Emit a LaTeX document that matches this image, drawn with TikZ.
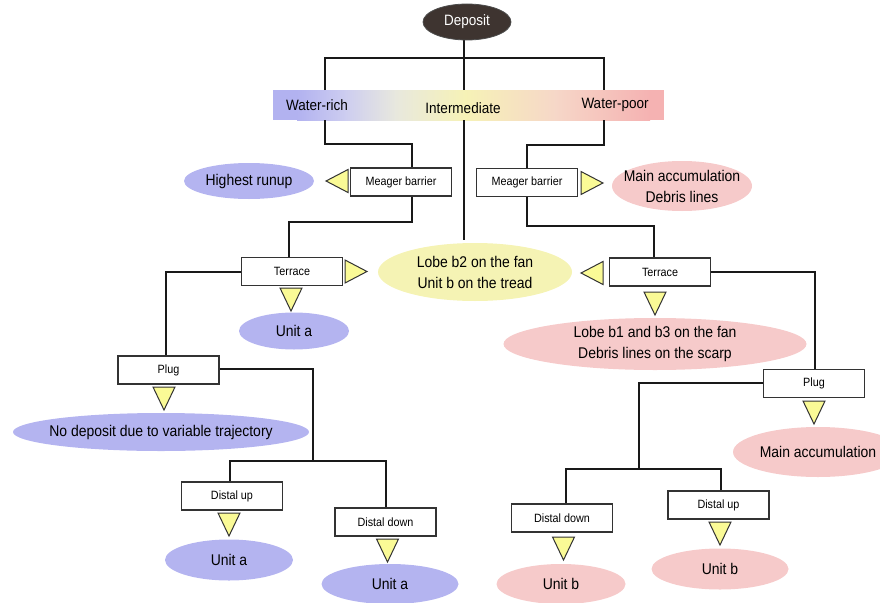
\documentclass[tikz,border=0pt]{standalone}
\usepackage{fontspec}
\setmainfont{Liberation Sans}[FakeStretch=0.9]
\usetikzlibrary{shapes.geometric}
\definecolor{cblue}{RGB}{180,180,240}
\definecolor{cpink}{RGB}{246,202,202}
\definecolor{cyel}{RGB}{245,243,180}
\definecolor{barblue}{RGB}{178,178,240}
\definecolor{barb2}{RGB}{205,205,240}
\definecolor{barw}{RGB}{232,232,222}
\definecolor{baryel}{RGB}{246,242,182}
\definecolor{barp2}{RGB}{246,215,200}
\definecolor{barpink}{RGB}{245,178,178}
\definecolor{ctri}{RGB}{250,250,150}
\definecolor{cdep}{RGB}{62,52,48}
\tikzset{
  stepbox/.style={draw=black!80, line width=1.1pt, fill=white, minimum width=101pt, minimum height=28pt, inner sep=0pt, font=\fontsize{12}{14}\selectfont},
  res/.style={inner sep=0pt, align=center, font=\fontsize{15.5}{21}\selectfont},
  conn/.style={line width=1.2pt, black!90},
  tri/.style={fill=ctri, draw=black!80, line width=1pt, line join=miter},
}
\newcommand\tdown[2]{\draw[tri] (#1-11,#2) -- (#1+11,#2) -- (#1,#2+23) -- cycle;}
\newcommand\tleft[2]{\draw[tri] (#1,#2) -- (#1+22,#2-11.5) -- (#1+22,#2+11.5) -- cycle;}
\newcommand\tright[2]{\draw[tri] (#1,#2) -- (#1-22,#2-11.5) -- (#1-22,#2+11.5) -- cycle;}
% result: name, x, y, width, height, colour, text
\newcommand\resnode[7]{\fill[#6] (#2,#3) ellipse [x radius=#4/2, y radius=#5/2]; \node[res] (#1) at (#2,#3) {#7};}
\begin{document}
\begin{tikzpicture}[x=1pt,y=-1pt]
\clip (0,0) rectangle (880,602);
\useasboundingbox (0,0) rectangle (880,602);
% gradient bar
\fill[barblue] (273,90) rectangle (298,120);
\shade[left color=barblue, right color=barb2] (297,90) rectangle (346,120);
\shade[left color=barb2, right color=barw] (345,90) rectangle (396,120);
\shade[left color=barw, right color=baryel] (395,90) rectangle (466,120);
\shade[left color=baryel, right color=barp2] (465,90) rectangle (556,120);
\shade[left color=barp2, right color=barpink] (555,90) rectangle (650,120);
\fill[barpink] (649,90) rectangle (664,120);
\node[font=\fontsize{15}{18}\selectfont] (wr) at (317,105) {Water-rich};
\node[font=\fontsize{15}{18}\selectfont] (im) at (463,108) {Intermediate};
\node[font=\fontsize{15}{18}\selectfont] (wp) at (615,105) {Water-poor};

% connectors
\draw[conn] (464,40) -- (464,90);
\draw[conn] (325,90) |- (604,58) -- (604,90);
\draw[conn] (325,120) |- (412,144) -- (412,168);
\draw[conn] (412,196) |- (289,222) -- (289,257);
\draw[conn] (464,120) -- (464,240);
\draw[conn] (242,272) -| (166,356);
\draw[conn] (219,369) -| (313,461);
\draw[conn] (230,482) |- (386,461) -- (386,508);
\draw[conn] (604,120) |- (527,145) -- (527,168);
\draw[conn] (527,197) |- (654,226) -- (654,258);
\draw[conn] (710,272) -| (815,369);
\draw[conn] (764,383) -| (639,469);
\draw[conn] (566,504) |- (721,469) -- (721,491);

% top node
\node[ellipse, fill=cdep, draw=black!70, line width=0.8pt, minimum width=88pt, minimum height=36pt, inner sep=0pt, text=white, font=\fontsize{15}{18}\selectfont] (dep) at (467,22) {Deposit};

% decision boxes
\node[stepbox] (mbL) at (401,182) {Meager barrier};
\node[stepbox] (mbR) at (527,182.5) {Meager barrier};
\node[stepbox] (terL) at (292,271.5) {Terrace};
\node[stepbox] (terR) at (660,272) {Terrace};
\node[stepbox] (plugL) at (168.5,370) {Plug};
\node[stepbox] (plugR) at (814,383.5) {Plug};
\node[stepbox] (duL) at (232,496) {Distal up};
\node[stepbox] (ddL) at (385.5,522) {Distal down};
\node[stepbox] (ddR) at (562,518) {Distal down};
\node[stepbox] (duR) at (718.5,505) {Distal up};

% results
\resnode{hru}{249}{181}{130}{36}{cblue}{Highest runup}
\resnode{mad}{682}{186}{140}{50}{cpink}{Main accumulation\\Debris lines}
\resnode{lb2}{475}{272}{194}{58}{cyel}{Lobe b2 on the fan\\Unit b on the tread}
\resnode{ua1}{294}{331}{110}{37}{cblue}{Unit a}
\resnode{lb1}{655}{344}{303}{52}{cpink}{Lobe b1 and b3 on the fan\\Debris lines on the scarp}
\resnode{nod}{161}{432}{296}{38}{cblue}{No deposit due to variable trajectory}
\resnode{macc}{818}{452}{170}{50}{cpink}{Main accumulation}
\resnode{ua2}{229}{560}{128}{41}{cblue}{Unit a}
\resnode{ua3}{390}{584}{137}{40}{cblue}{Unit a}
\resnode{ub1}{561}{584}{129}{40}{cpink}{Unit b}
\resnode{ub2}{720}{569}{137}{41}{cpink}{Unit b}

% triangles
\tleft{326}{181}
\tright{603}{183}
\tright{367}{271.5}
\tdown{291}{288}
\tleft{581}{273}
\tdown{655}{292}
\tdown{164}{387}
\tdown{229}{513}
\tdown{387.5}{539}
\tdown{814}{401}
\tdown{563.5}{537}
\tdown{720}{522}
\end{tikzpicture}
\end{document}
